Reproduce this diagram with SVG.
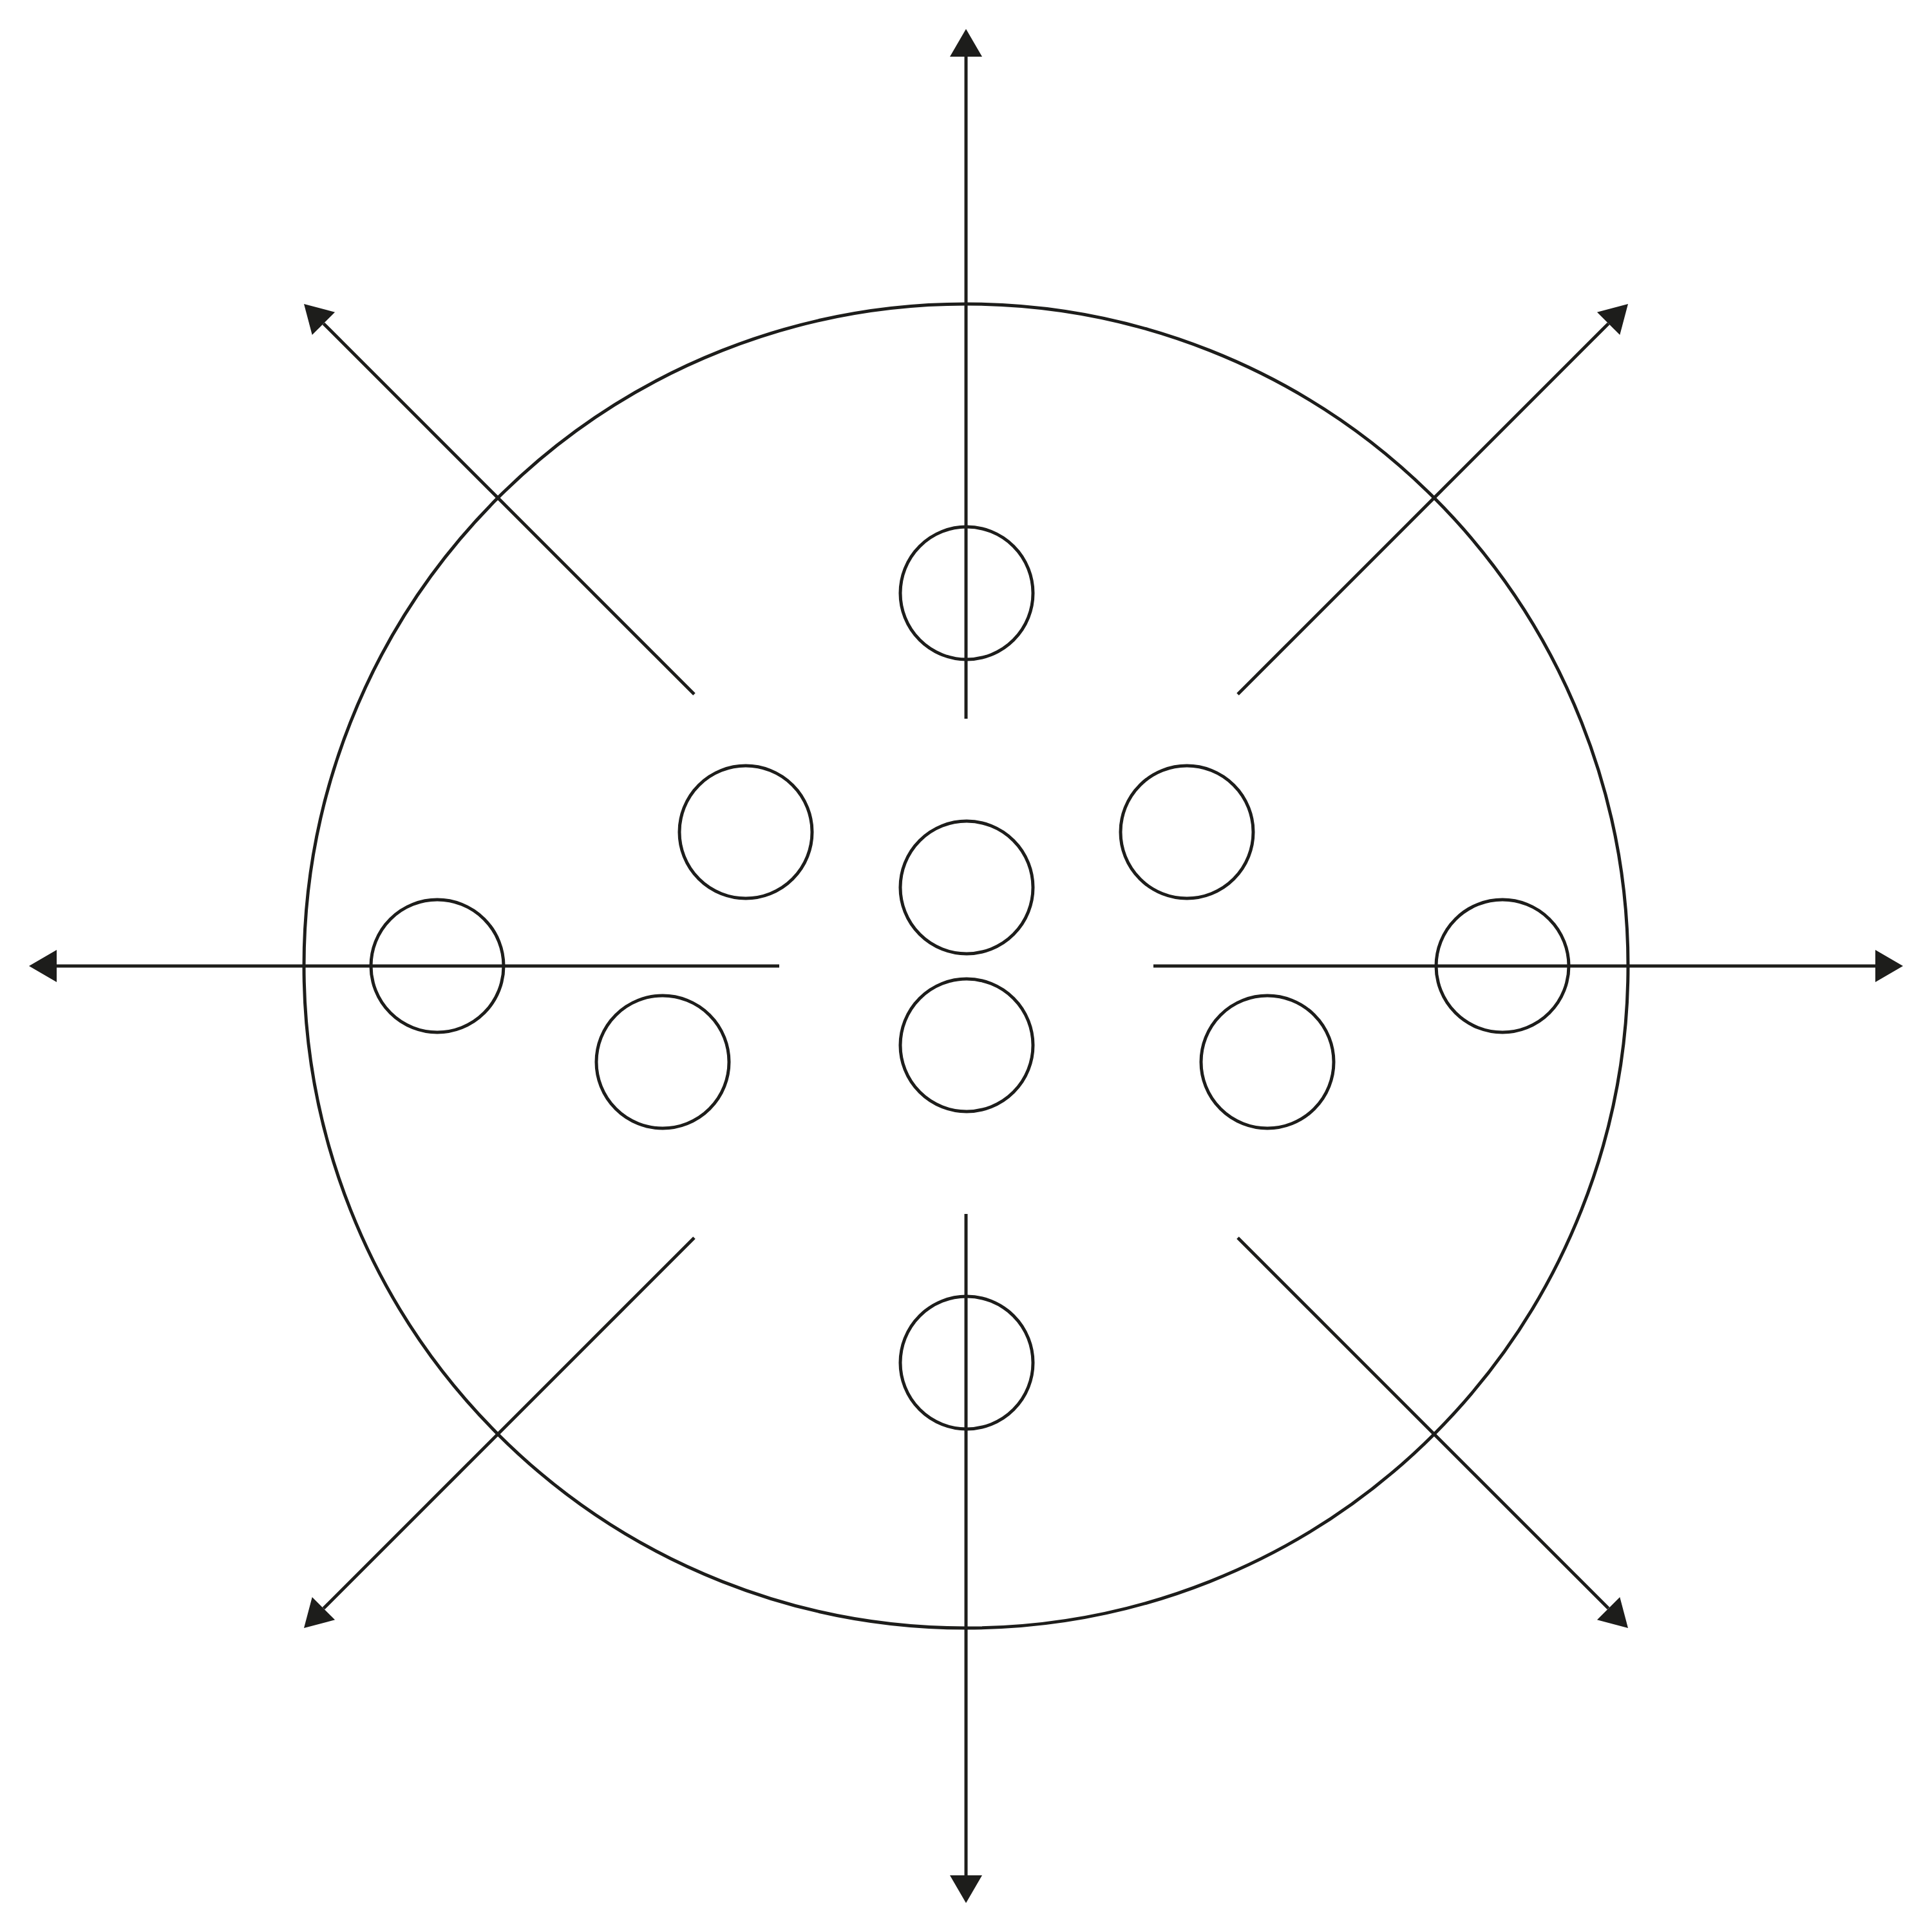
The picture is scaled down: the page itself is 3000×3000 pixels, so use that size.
<svg xmlns="http://www.w3.org/2000/svg" width="3000" height="3000" viewBox="0 0 3000 3000">
<style>
.s{fill:none;stroke:#1d1d1b;stroke-width:5}
.c{fill:none;stroke:#1d1d1b;stroke-width:5}
</style>
<defs>
<marker id="ah" markerUnits="userSpaceOnUse" markerWidth="50" markerHeight="50" refX="0" refY="25" orient="auto" viewBox="0 0 50 50" overflow="visible">
<path d="M0,0 L43,25 L0,50 Z" fill="#1d1d1b"/>
</marker>
</defs>
<rect width="3000" height="3000" fill="#ffffff"/>
<g id="outer"><circle class="c" cx="1500" cy="1500" r="1028"/></g>
<g id="connectors">
<line class="s" x1="1500" y1="1116" x2="1500" y2="88" marker-end="url(#ah)"/>
<line class="s" x1="1500" y1="1885" x2="1500" y2="2912" marker-end="url(#ah)"/>
<line class="s" x1="1210" y1="1500" x2="88" y2="1500" marker-end="url(#ah)"/>
<line class="s" x1="1791" y1="1500" x2="2912" y2="1500" marker-end="url(#ah)"/>
<line class="s" x1="1078" y1="1078" x2="502.4" y2="502.4" marker-end="url(#ah)"/>
<line class="s" x1="1922" y1="1078" x2="2497.6" y2="502.4" marker-end="url(#ah)"/>
<line class="s" x1="1078" y1="1922" x2="502.4" y2="2497.6" marker-end="url(#ah)"/>
<line class="s" x1="1922" y1="1922" x2="2497.6" y2="2497.6" marker-end="url(#ah)"/>
</g>
<g id="n-top"><circle class="c" cx="1501" cy="921" r="103"/></g>
<g id="n-bottom"><circle class="c" cx="1501" cy="2116" r="103"/></g>
<g id="n-center-upper"><circle class="c" cx="1501" cy="1378" r="103"/></g>
<g id="n-center-lower"><circle class="c" cx="1501" cy="1623" r="103"/></g>
<g id="n-upper-left"><circle class="c" cx="1158" cy="1292" r="103"/></g>
<g id="n-upper-right"><circle class="c" cx="1843" cy="1292" r="103"/></g>
<g id="n-left"><circle class="c" cx="679" cy="1500" r="103"/></g>
<g id="n-right"><circle class="c" cx="2333" cy="1500" r="103"/></g>
<g id="n-lower-left"><circle class="c" cx="1029" cy="1649" r="103"/></g>
<g id="n-lower-right"><circle class="c" cx="1968" cy="1649" r="103"/></g>
</svg>
